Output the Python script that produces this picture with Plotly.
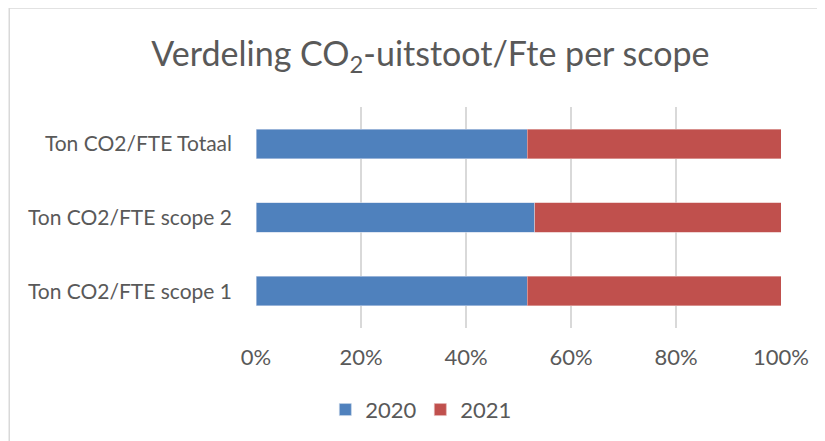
import plotly.graph_objects as go

categories = ["Ton CO2/FTE scope 1", "Ton CO2/FTE scope 2", "Ton CO2/FTE Totaal"]
values_2020 = [51.7, 53.1, 51.7]
values_2021 = [48.3, 46.9, 48.3]
tick_vals = [0, 20, 40, 60, 80, 100]
tick_text = ["0%", "20%", "40%", "60%", "80%", "100%"]

FONT = "Lato"
GREY = "#595959"

fig = go.Figure()
fig.add_trace(go.Bar(y=categories, x=values_2020, name="2020", orientation="h",
                     marker=dict(color="#4F81BD", line=dict(color="#C9D6EA", width=0.6))))
fig.add_trace(go.Bar(y=categories, x=values_2021, name="2021", orientation="h",
                     marker=dict(color="#C0504D", line=dict(color="#E6B9B8", width=0.6))))

fig.update_layout(
    barmode="stack",
    barnorm="percent",
    bargap=0.6,
    width=825, height=441,
    margin=dict(l=248, r=52, t=99, b=121, autoexpand=False),
    paper_bgcolor="white", plot_bgcolor="white",
    font=dict(family=FONT, color=GREY, size=21),
    title=dict(text="Verdeling CO<sub>2</sub>-uitstoot/Fte per scope",
               x=0.512, xanchor="center", y=0.895, yanchor="middle",
               font=dict(family=FONT, size=34, color=GREY)),
    xaxis=dict(range=[0, 100], tickvals=tick_vals, ticktext=tick_text,
               showgrid=True, gridcolor="#D9D9D9", gridwidth=1.5,
               zeroline=False, showline=False, ticks="", ticklabelstandoff=14,
               automargin=False,
               tickfont=dict(family=FONT, size=22, color=GREY)),
    yaxis=dict(showgrid=False, zeroline=False, showline=False, ticks="",
               ticklabelstandoff=23, automargin=False,
               tickfont=dict(family=FONT, size=21, color=GREY)),
    legend=dict(orientation="h", x=0.313, xanchor="center", y=-0.37, yanchor="middle",
                font=dict(family=FONT, size=22, color=GREY), traceorder="normal",
                itemwidth=30, entrywidth=50, entrywidthmode="pixels"),
    showlegend=True,
)

fig.add_shape(type="rect", xref="paper", yref="paper",
              x0=-0.470, x1=1.2, y0=-0.6, y1=1.448,
              line=dict(color="#D9D9D9", width=1.5), fillcolor="rgba(0,0,0,0)", layer="below")

fig.write_html("out.html")
